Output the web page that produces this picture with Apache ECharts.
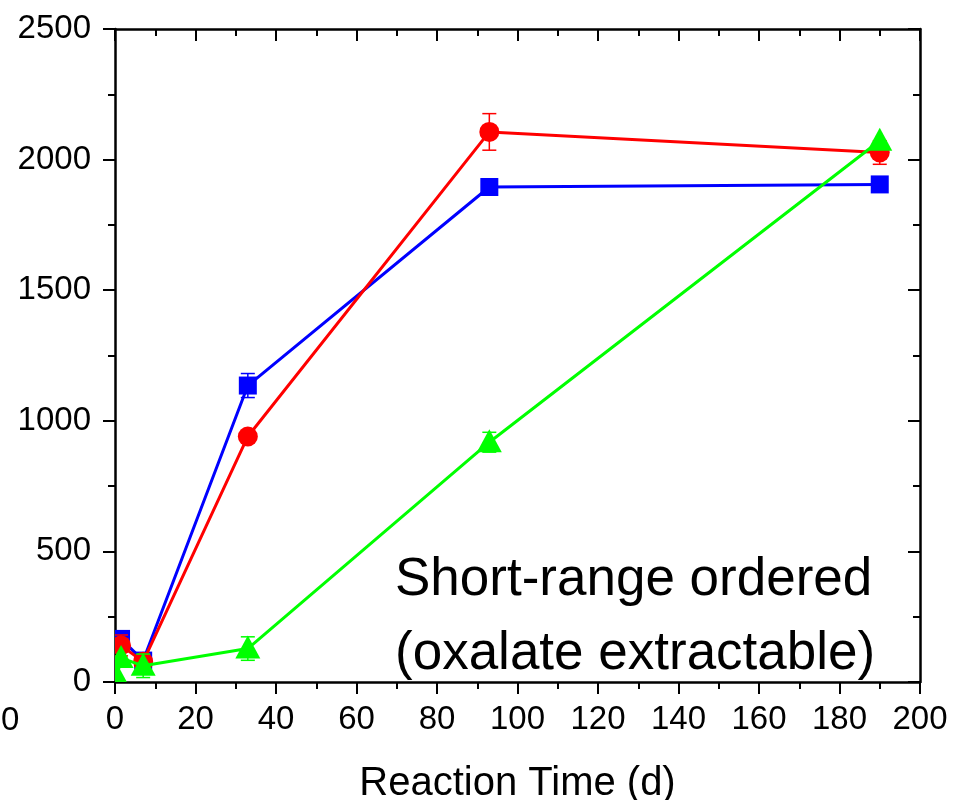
<!DOCTYPE html>
<html><head><meta charset="utf-8">
<script src="https://cdn.jsdelivr.net/npm/echarts@6/dist/echarts.min.js"></script>
<style>html,body{margin:0;padding:0;background:#fff}#c{width:953px;height:800px}</style>
</head><body><div id="c"></div>
<script>
// Data
const blueTime = [1.5, 7, 33, 93, 190];
const blueVal = [165, 82, 1135, 1895, 1905];
const blueErr = [0, 0, 46, 0, 0];
const redTime = [1.5, 7, 33, 93, 190];
const redVal = [140, 78, 940, 2106, 2027];
const redErr = [40, 0, 0, 70, 45];
const greenTime = [0.5, 1.5, 7, 33, 93, 190];
const greenVal = [20, 92, 62, 128, 918, 2072];
const greenErr = [0, 0, 45, 45, 38, 0];
const xTicks = [0, 20, 40, 60, 80, 100, 120, 140, 160, 180, 200];
const yTicks = [0, 500, 1000, 1500, 2000, 2500];
const xTitle = 'Reaction Time (d)';
const noteLines = ['Short-range ordered', '(oxalate extractable)'];

const FONT = '"Liberation Sans", Arial, sans-serif';
const chart = echarts.init(document.getElementById('c'), null, {renderer: 'canvas'});

function lineSeries(times, vals, color, z) {
  return {type: 'line', data: times.map((t, i) => [t, vals[i]]), showSymbol: false, symbol: 'none',
    lineStyle: {color: color, width: 3}, itemStyle: {color: color}, z: z, animation: false};
}
function markerSeries(times, vals, errs, color, shape, z) {
  return {
    type: 'custom', clip: true, z: z, animation: false,
    data: times.map((t, i) => [t, vals[i], errs[i]]),
    renderItem: function (params, api) {
      const x = api.value(0), y = api.value(1), e = api.value(2);
      const p = api.coord([x, y]);
      const ch = [];
      if (e > 0) {
        const t = api.coord([x, y + e]), b = api.coord([x, y - e]);
        const st = {stroke: color, lineWidth: 1.5};
        ch.push({type: 'line', shape: {x1: p[0], y1: t[1], x2: p[0], y2: b[1]}, style: st});
        ch.push({type: 'line', shape: {x1: p[0] - 7, y1: t[1], x2: p[0] + 7, y2: t[1]}, style: st});
        ch.push({type: 'line', shape: {x1: p[0] - 7, y1: b[1], x2: p[0] + 7, y2: b[1]}, style: st});
      }
      if (shape === 'circle') {
        ch.push({type: 'circle', shape: {cx: p[0], cy: p[1], r: 10}, style: {fill: color}});
      } else if (shape === 'square') {
        ch.push({type: 'rect', shape: {x: p[0] - 9, y: p[1] - 9, width: 18, height: 18}, style: {fill: color}});
      } else {
        ch.push({type: 'polygon', shape: {points: [[p[0], p[1] - 13], [p[0] + 12.5, p[1] + 10], [p[0] - 12.5, p[1] + 10]]}, style: {fill: color}});
      }
      return {type: 'group', children: ch};
    }
  };
}

const axisCommon = {
  axisLine: {show: true, onZero: false, lineStyle: {color: '#000', width: 2.5}},
  splitLine: {show: false},
  minorTick: {show: true, splitNumber: 2, length: 7, lineStyle: {color: '#000', width: 2}},
  axisTick: {show: true, length: 12, lineStyle: {color: '#000', width: 2}}
};

chart.setOption({
  animation: false,
  backgroundColor: '#fff',
  grid: {left: 115, right: 33, top: 29, bottom: 118, containLabel: false, outerBoundsMode: 'none'},
  xAxis: [
    Object.assign({}, axisCommon, {type: 'value', position: 'bottom', min: xTicks[0], max: xTicks[xTicks.length - 1], interval: 20,
      axisLabel: {color: '#000', fontSize: 33, fontFamily: FONT, margin: 21,
        formatter: v => (xTicks.indexOf(v) >= 0 ? String(v) : '')},
      name: xTitle, nameLocation: 'middle', nameGap: 82,
      nameTextStyle: {color: '#000', fontSize: 40, fontFamily: FONT}}),
    Object.assign({}, axisCommon, {type: 'value', position: 'top', min: xTicks[0], max: xTicks[xTicks.length - 1], interval: 20,
      axisLabel: {show: false}, axisTick: {show: true, inside: true, length: 12, lineStyle: {color: '#000', width: 2}},
      minorTick: {show: true, splitNumber: 2, length: 7, lineStyle: {color: '#000', width: 2}}})
  ],
  yAxis: [
    Object.assign({}, axisCommon, {type: 'value', position: 'left', min: yTicks[0], max: yTicks[yTicks.length - 1], interval: 500,
      axisLabel: {color: '#000', fontSize: 33, fontFamily: FONT, margin: 24,
        formatter: v => (yTicks.indexOf(v) >= 0 ? String(v) : '')}}),
    Object.assign({}, axisCommon, {type: 'value', position: 'right', min: yTicks[0], max: yTicks[yTicks.length - 1], interval: 500,
      axisLabel: {show: false}, axisTick: {show: true, inside: true, length: 12, lineStyle: {color: '#000', width: 2}}})
  ],
  series: [
    lineSeries(blueTime, blueVal, '#0000ff', 2),
    markerSeries(blueTime, blueVal, blueErr, '#0000ff', 'square', 3),
    lineSeries(redTime, redVal, '#ff0000', 4),
    markerSeries(redTime, redVal, redErr, '#ff0000', 'circle', 5),
    lineSeries(greenTime, greenVal, '#00ff00', 6),
    markerSeries(greenTime, greenVal, greenErr, '#00ff00', 'triangle', 7)
  ],
  graphic: [
    {type: 'text', left: 395, top: 554, z: 10, style: {text: noteLines[0], font: '53px ' + FONT, fill: '#000'}},
    {type: 'text', left: 395, top: 628, z: 10, style: {text: noteLines[1], font: '53px ' + FONT, fill: '#000'}},
    {type: 'text', left: 1, top: 704, z: 10, style: {text: '0', font: '33px ' + FONT, fill: '#000'}}
  ]
});
</script></body></html>
